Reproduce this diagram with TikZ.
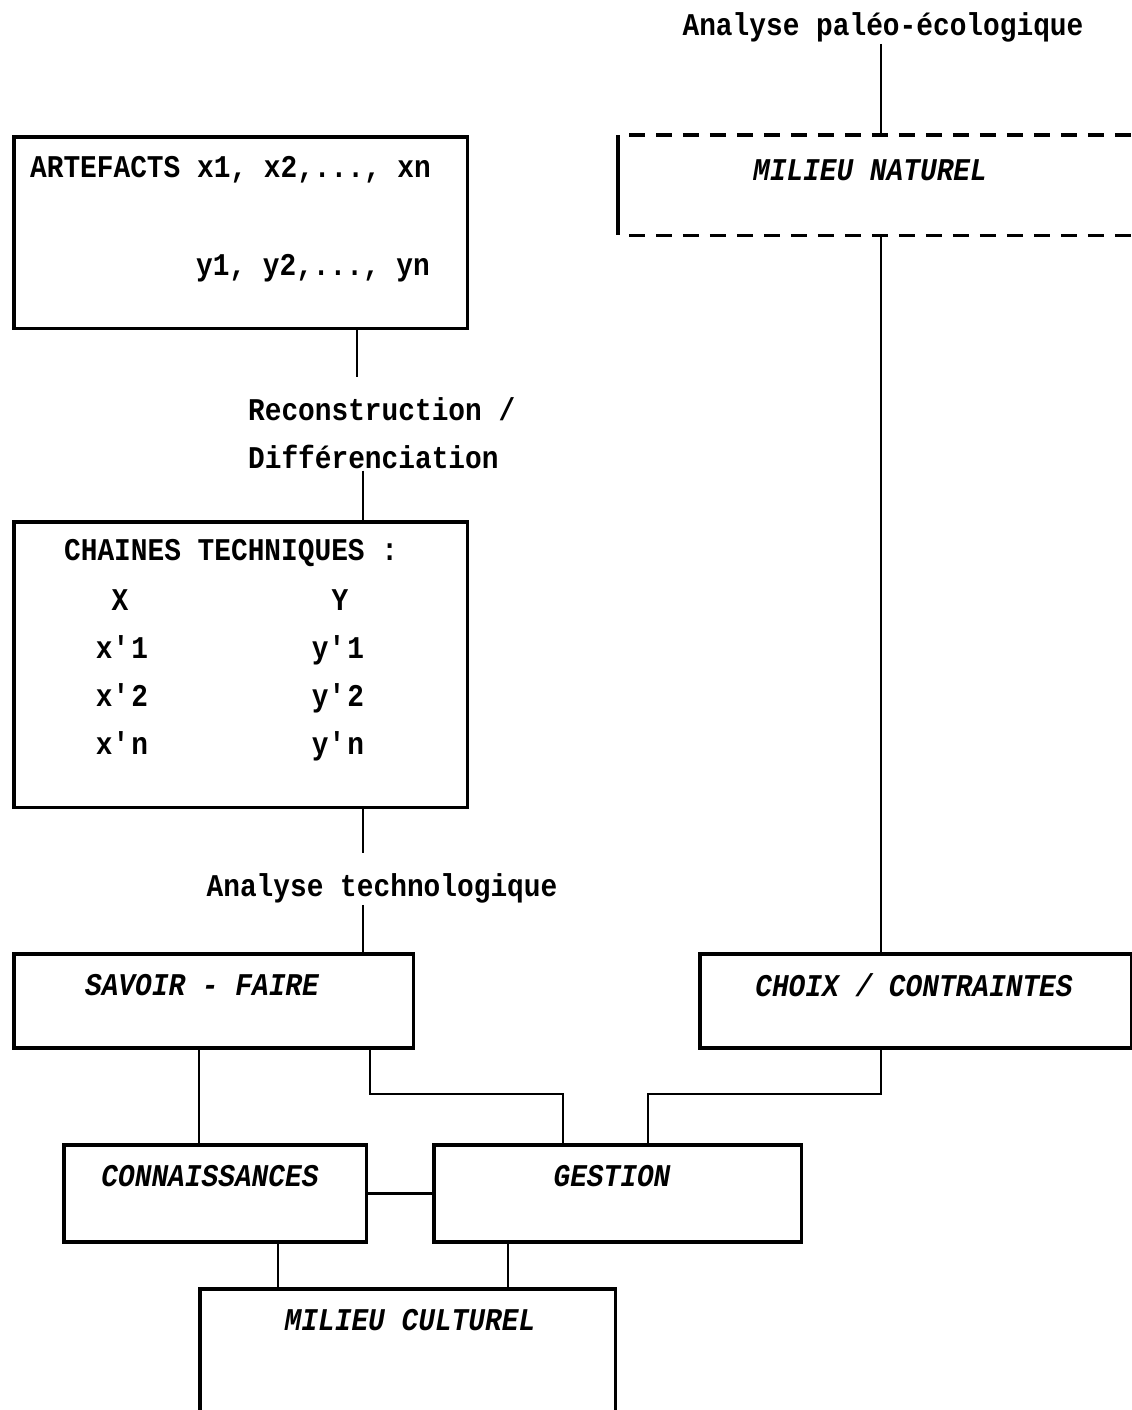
\documentclass[tikz,border=0pt]{standalone}
\usepackage{fontspec}
\newfontfamily\machine{Liberation Mono}[FakeStretch=0.88]
\begin{document}
\frenchspacing
\begin{tikzpicture}[x=.02cm,y=-.02cm,
 boite/.style={draw,line width=2pt,anchor=north west,inner sep=0pt},
 lien/.style={line width=1.6pt},
 texte/.style={font=\fontsize{18}{27.3}\selectfont\machine\bfseries,inner sep=1pt},
 titre/.style={font=\fontsize{18}{27.3}\selectfont\machine\bfseries\itshape,inner sep=1pt},
 tirets/.style={line width=2pt,dash pattern=on .32cm off .22cm,dash phase=.32cm}]

\useasboundingbox (0,0) rectangle (1132,1410);

\coordinate (kA) at (357,0);
\coordinate (kB) at (363,0);
\coordinate (kN) at (881,0);
\coordinate (kS) at (199,0);
\coordinate (kT) at (370,0);
\coordinate (kU) at (563,0);
\coordinate (kV) at (648,0);
\coordinate (kW) at (278,0);
\coordinate (kZ) at (508,0);
\coordinate (hG) at (0,1094);

\node[boite,minimum width=9.08cm,minimum height=3.84cm] (artefacts) at (12,135) {};
\node[boite,minimum width=9.08cm,minimum height=5.72cm] (chaines) at (12,520) {};
\node[boite,minimum width=8cm,minimum height=1.88cm] (savoir) at (12,952) {};
\node[boite,minimum width=8.64cm,minimum height=1.88cm] (choix) at (698,952) {};
\node[boite,minimum width=6.06cm,minimum height=1.94cm] (connaiss) at (62,1143) {};
\node[boite,minimum width=7.36cm,minimum height=1.94cm] (gestion) at (432,1143) {};
\node[boite,minimum width=8.32cm,minimum height=4cm] (culturel) at (198,1287) {};
\node[boite,draw=none,minimum width=11.2cm,minimum height=1.94cm] (naturel) at (618,135) {};

\draw[tirets] (naturel.north west) -- (naturel.north east);
\draw[tirets] (naturel.south west) -- (naturel.south east);
\draw[line width=2pt] (naturel.north west) -- (naturel.south west);

\node[texte] (paleo) at (883,27) {Analyse paléo-écologique};
\node[texte,anchor=west] (artx) at (28,170) {ARTEFACTS x1, x2,..., xn};
\node[texte,anchor=east] (arty) at (432,268) {y1, y2,..., yn};
\node[texte,anchor=west,align=left] (reconstr) at (246,433) {Reconstruction /\\Différenciation};
\node[texte,anchor=west] (chtitre) at (62,553) {CHAINES TECHNIQUES :};
\node[texte,anchor=base] (colx) at (120,610) {X};
\node[texte,anchor=base] (coly) at (340,610) {Y};
\foreach \r/\h in {1/658,2/706,n/754}{
 \node[texte,anchor=base] (x\r) at (122,\h) {x\textquotesingle\r};
 \node[texte,anchor=base] (y\r) at (338,\h) {y\textquotesingle\r};
}
\node[texte] (techno) at (382,888) {Analyse technologique};

\node[titre] (tnaturel) at (870,170) {MILIEU NATUREL};
\node[titre] (tsavoir) at (202,985) {SAVOIR - FAIRE};
\node[titre] (tchoix) at (914,985) {CHOIX / CONTRAINTES};
\node[titre] (tconnaiss) at (210,1176) {CONNAISSANCES};
\node[titre] (tgestion) at (612,1176) {GESTION};
\node[titre] (tculturel) at (410,1320) {MILIEU CULTUREL};

\draw[lien] (paleo.south -| kN) -- (naturel.north -| kN);
\draw[lien] (naturel.south -| kN) -- (choix.north -| kN);
\draw[lien] (choix.south -| kN) |- (kV |- hG) -- (gestion.north -| kV);
\draw[lien,shorten >=.36cm] (artefacts.south -| kA) -- (reconstr.north -| kA);
\draw[lien] (reconstr.south -| kB) -- (chaines.north -| kB);
\draw[lien,shorten >=.36cm] (chaines.south -| kB) -- (techno.north -| kB);
\draw[lien] (techno.south -| kB) -- (savoir.north -| kB);
\draw[lien] (savoir.south -| kS) -- (connaiss.north -| kS);
\draw[lien] (savoir.south -| kT) |- (kU |- hG) -- (gestion.north -| kU);
\draw[lien] (connaiss.east) -- (gestion.west);
\draw[lien] (connaiss.south -| kW) -- (culturel.north -| kW);
\draw[lien] (gestion.south -| kZ) -- (culturel.north -| kZ);

\end{tikzpicture}
\end{document}
